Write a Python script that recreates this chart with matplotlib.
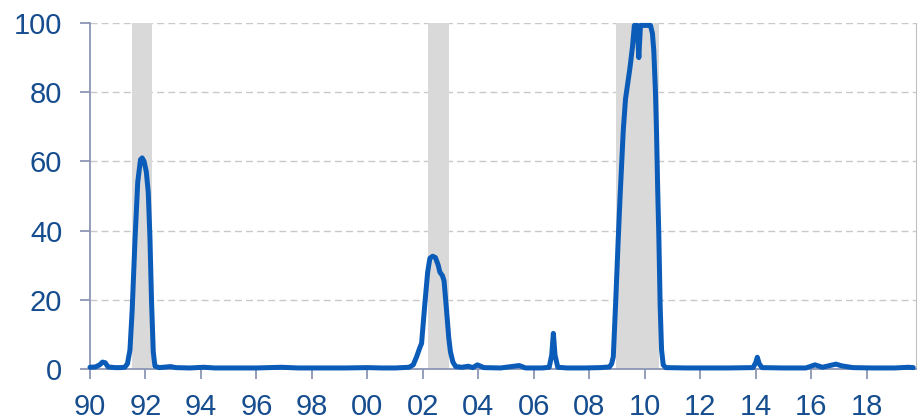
import matplotlib
matplotlib.use('Agg')
import matplotlib.pyplot as plt

# probability series (decimal year, value)
years = [1990.0, 1990.2, 1990.35, 1990.45, 1990.55, 1990.65, 1990.9, 1991.1, 1991.25,
         1991.35, 1991.44, 1991.52, 1991.62, 1991.72, 1991.82, 1991.88, 1991.95, 1992.03,
         1992.1, 1992.16, 1992.22, 1992.28, 1992.34, 1992.5, 1992.9, 1993.1, 1993.6,
         1994.1, 1994.5, 1995.5, 1996.0, 1996.9, 1997.5, 1998.5, 1999.2, 2000.0, 2000.5,
         2001.0, 2001.5, 2001.65, 2001.77, 2001.88, 2001.95, 2002.07, 2002.17, 2002.25,
         2002.35, 2002.45, 2002.55, 2002.61, 2002.7, 2002.76, 2002.85, 2002.93, 2002.99,
         2003.08, 2003.18, 2003.4, 2003.63, 2003.8, 2003.96, 2004.2, 2004.8, 2005.47,
         2005.7, 2006.3, 2006.55, 2006.64, 2006.7, 2006.76, 2006.86, 2007.2, 2007.8,
         2008.4, 2008.72, 2008.8, 2008.86, 2008.95, 2009.03, 2009.1, 2009.22, 2009.3,
         2009.46, 2009.55, 2009.62, 2009.72, 2009.78, 2009.84, 2009.9, 2010.0, 2010.2,
         2010.27, 2010.32, 2010.38, 2010.42, 2010.46, 2010.5, 2010.55, 2010.6, 2010.66,
         2010.75, 2011.5, 2012.3, 2013.0, 2013.9, 2014.0, 2014.05, 2014.12, 2014.22,
         2015.0, 2015.8, 2016.13, 2016.4, 2016.88, 2017.1, 2017.5, 2018.2, 2019.0, 2019.5,
         2019.67]
prob = [0.5, 0.6, 1.2, 2.0, 1.8, 0.6, 0.4, 0.4, 0.5,
        1.5, 5.5, 17.0, 37.0, 54.0, 60.5, 61.0, 60.0, 57.0,
        51.0, 38.0, 19.0, 5.0, 0.8, 0.4, 0.7, 0.4, 0.3,
        0.5, 0.3, 0.3, 0.3, 0.5, 0.3, 0.3, 0.3, 0.4, 0.3,
        0.3, 0.5, 1.2, 3.5, 6.0, 7.4, 19.0, 28.0, 32.0,
        32.6, 32.2, 30.0, 28.0, 27.0, 25.5, 17.0, 9.0, 5.0,
        2.0, 0.7, 0.5, 0.8, 0.4, 1.2, 0.4, 0.3, 1.0,
        0.3, 0.3, 0.5, 4.0, 10.3, 4.0, 0.5, 0.3, 0.3,
        0.4, 0.6, 1.5, 3.5, 20.0, 36.0, 49.0, 69.0, 78.0,
        87.0, 93.0, 99.3, 99.3, 90.0, 99.3, 99.3, 99.3, 99.3,
        97.0, 92.0, 80.0, 68.0, 52.0, 39.0, 18.0, 5.5, 1.2,
        0.4, 0.3, 0.3, 0.3, 0.4, 2.0, 3.4, 1.5, 0.4,
        0.3, 0.3, 1.2, 0.5, 1.4, 0.9, 0.4, 0.3, 0.3, 0.5,
        0.4]

# recession periods (shaded)
rec_start = [1991.5, 2002.19, 2008.95]
rec_end = [1992.25, 2002.94, 2010.52]

xticks = list(range(1990, 2019, 2))
xlabels = ['%02d' % (y % 100) for y in xticks]
yticks = [0, 20, 40, 60, 80, 100]

txt_col = '#154d8e'
spine_col = '#8c96b4'

plt.rcParams['font.family'] = ['Liberation Sans', 'DejaVu Sans']

fig = plt.figure(figsize=(9.18, 4.2), dpi=100)
ax = fig.add_axes([90 / 918, 51 / 420, 826 / 918, 346 / 420])

for s, e in zip(rec_start, rec_end):
    ax.axvspan(s, e, color='#d9d9d9', lw=0, zorder=1)

for y in yticks[1:]:
    ax.axhline(y, color='#c8c8c8', lw=1.0, ls=(0, (5, 3)), zorder=0.5)

ax.plot(years, prob, color='#0b5cb8', lw=3.6, solid_joinstyle='round',
        solid_capstyle='round', zorder=3, clip_on=False)

ax.set_xlim(1990, 2019.77)
ax.set_ylim(0, 100)
ax.set_xticks(xticks)
ax.set_xticklabels(xlabels)
ax.set_yticks(yticks)

ax.spines['top'].set_visible(False)
ax.spines['right'].set_color('#c0c0c0')
ax.spines['left'].set_color(spine_col)
ax.spines['bottom'].set_color(spine_col)
ax.spines['left'].set_linewidth(1.3)
ax.spines['bottom'].set_linewidth(1.3)

ax.tick_params(axis='x', direction='out', length=7, width=1.3, color=spine_col,
               labelsize=21, labelcolor=txt_col, pad=10)
ax.tick_params(axis='y', direction='out', length=7, width=1.3, color=spine_col,
               labelsize=21, labelcolor=txt_col, pad=13)

fig.savefig('out.png', dpi=100)
